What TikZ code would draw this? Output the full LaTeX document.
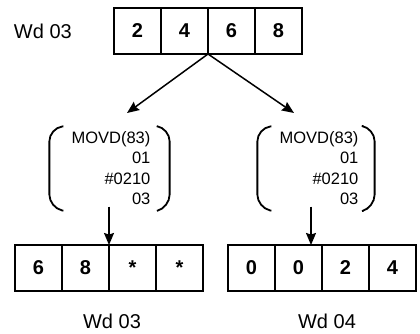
\documentclass[tikz,border=0pt]{standalone}
\usepackage{fontspec}
\setmainfont{Liberation Sans}
\usepackage{tikz}
\usetikzlibrary{arrows.meta, positioning}
\tikzstyle{digit} = [rectangle, draw=black, line width=1.6pt, minimum width=47pt, minimum height=46pt, inner sep=0pt, outer sep=0pt, font=\fontsize{20}{24}\selectfont\bfseries]
\tikzstyle{word} = [inner sep=0pt, font=\fontsize{20}{24}\selectfont]
\tikzstyle{instr} = [align=right, inner sep=0pt, font=\fontsize{16.5}{20.3}\selectfont]
\tikzstyle{paren} = [line width=1.8pt, rounded corners=13pt]
\tikzstyle{arrow} = [line width=1.5pt, ->, >={Stealth[length=12pt,width=10pt,inset=1.5pt]}]

\begin{document}
\begin{tikzpicture}[x=1pt, y=-1pt]
\useasboundingbox (0,0) rectangle (420,334);
% source word
\node (t1) [digit] at (137.5,31) {2};
\node (t2) [digit, right=0pt of t1] {4};
\node (t3) [digit, right=0pt of t2] {6};
\node (t4) [digit, right=0pt of t3] {8};
\node (wdtop) [word, left=42pt of t1] {Wd 03};
% the two instructions
\node (movdL) [instr] at (111,168) {MOVD(83)\\01\\\#0210\\03};
\node (movdR) [instr] at (319,168) {MOVD(83)\\01\\\#0210\\03};
\draw [paren] ([xshift=-8pt,yshift=5pt]movdL.north west) -- ([xshift=-22pt,yshift=3pt]movdL.north west) -- ([xshift=-22pt,yshift=-3pt]movdL.south west) -- ([xshift=-8pt,yshift=-6pt]movdL.south west);
\draw [paren] ([xshift=7pt,yshift=5pt]movdL.north east) -- ([xshift=19pt,yshift=3pt]movdL.north east) -- ([xshift=19pt,yshift=-3pt]movdL.south east) -- ([xshift=7pt,yshift=-6pt]movdL.south east);
\draw [paren] ([xshift=-8pt,yshift=5pt]movdR.north west) -- ([xshift=-22pt,yshift=3pt]movdR.north west) -- ([xshift=-22pt,yshift=-3pt]movdR.south west) -- ([xshift=-8pt,yshift=-6pt]movdR.south west);
\draw [paren] ([xshift=5pt,yshift=5pt]movdR.north east) -- ([xshift=16pt,yshift=3pt]movdR.north east) -- ([xshift=16pt,yshift=-3pt]movdR.south east) -- ([xshift=5pt,yshift=-6pt]movdR.south east);
% results
\node (b1) [digit] at (38.5,268) {6};
\node (b2) [digit, right=0pt of b1] {8};
\node (b3) [digit, right=0pt of b2] {*};
\node (b4) [digit, right=0pt of b3] {*};
\node (r1) [digit] at (251.5,268) {0};
\node (r2) [digit, right=0pt of r1] {0};
\node (r3) [digit, right=0pt of r2] {2};
\node (r4) [digit, right=0pt of r3] {4};
\node (wdL) [word, below=23pt of b2.south east, xshift=3pt] {Wd 03};
\node (wdR) [word, below=23pt of r2.south east, xshift=5pt] {Wd 04};
% arrows
\coordinate (tipL) at (127,113);
\coordinate (tipR) at (294,113);
\draw [arrow] (t2.south east) -- (tipL);
\draw [arrow] (t2.south east) -- (tipR);
\draw [arrow] ([yshift=-2pt]movdL.south -| b2.east) -- (b2.north east);
\draw [arrow] ([xshift=-11pt,yshift=-2pt]movdR.south -| r2.east) -- ([xshift=-11pt]r2.north east);
\end{tikzpicture}
\end{document}
